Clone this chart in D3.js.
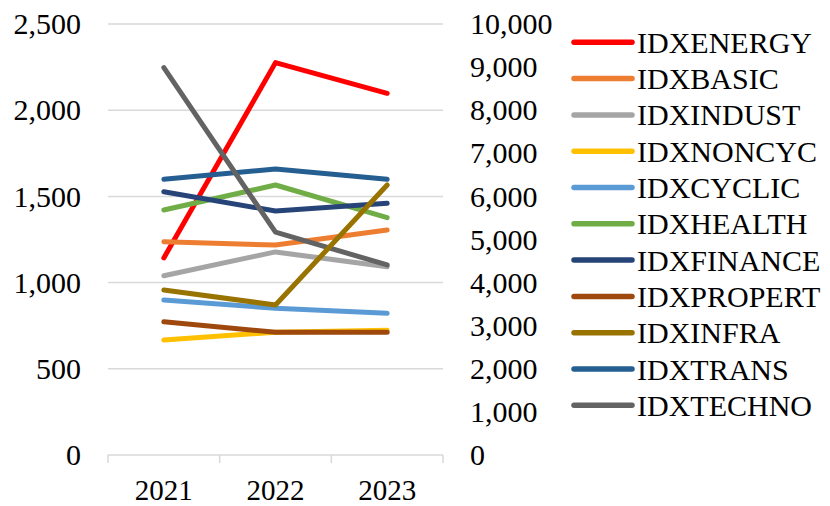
<!DOCTYPE html>
<html>
<head>
<meta charset="utf-8">
<script src="https://cdn.jsdelivr.net/npm/d3@7"></script>
<style>
  body { margin: 0; background: #fff; }
  svg text { font-family: "Liberation Serif", "DejaVu Serif", serif; fill: #000; }
</style>
</head>
<body>
<div id="chart"></div>
<script>
// years on the x axis
const years = ["2021", "2022", "2023"];

// series names, in legend order
const names = ["IDXENERGY", "IDXBASIC", "IDXINDUST", "IDXNONCYC", "IDXCYCLIC",
  "IDXHEALTH", "IDXFINANCE", "IDXPROPERT", "IDXINFRA", "IDXTRANS", "IDXTECHNO"];

// values
const energy  = [1143, 2276, 2098];
const basic   = [1237, 1218, 1305];
const indust  = [1040, 1178, 1092];
const noncyc  = [667, 712, 723];
const cyclic  = [899, 851, 822];
const health  = [1421, 1566, 1377];
const finance = [1527, 1415, 1460];
const propert = [773, 712, 712];
const infra   = [957, 870, 1566];
const trans   = [1599, 1659, 1599];
const techno  = [8990, 5170, 4410]; // right axis

const leftTicks = [0, 500, 1000, 1500, 2000, 2500];
const rightTicks = [0, 1000, 2000, 3000, 4000, 5000, 6000, 7000, 8000, 9000, 10000];

const colors = ["#ff0000", "#ed7d31", "#a5a5a5", "#ffc000", "#5b9bd5",
  "#70ad47", "#264478", "#9e480e", "#997300", "#255e91", "#636363"];

const values = [energy, basic, indust, noncyc, cyclic, health, finance, propert, infra, trans, techno];
const onRight = names.map(n => n === "IDXTECHNO");

const width = 830, height = 506;
const plotL = 108, plotR = 443, plotT = 24, plotB = 455;
const serif = "'Liberation Serif', 'DejaVu Serif', serif";

const svg = d3.select("#chart").append("svg")
  .attr("width", width)
  .attr("height", height)
  .attr("font-family", serif);

const x = d3.scaleBand().domain(years).range([plotL, plotR]).padding(0);
const y = d3.scaleLinear().domain([0, 2500]).range([plotB, plotT]);
const y2 = d3.scaleLinear().domain([0, 10000]).range([plotB, plotT]);
const fmt = d3.format(",");

// gridlines
svg.append("g")
  .selectAll("line")
  .data(leftTicks.slice(1))
  .enter()
  .append("line")
  .attr("x1", plotL).attr("x2", plotR)
  .attr("y1", d => y(d)).attr("y2", d => y(d))
  .attr("stroke", "#d9d9d9")
  .attr("stroke-width", 1.5);

// left axis
const gl = svg.append("g")
  .attr("transform", "translate(" + plotL + ",0)")
  .call(d3.axisLeft(y).tickValues(leftTicks).tickFormat(fmt).tickSize(0).tickPadding(27))
  .attr("font-family", serif)
  .attr("font-size", 30);
gl.select(".domain").remove();

// right axis
const gr = svg.append("g")
  .attr("transform", "translate(" + plotR + ",0)")
  .call(d3.axisRight(y2).tickValues(rightTicks).tickFormat(fmt).tickSize(0).tickPadding(27))
  .attr("font-family", serif)
  .attr("font-size", 30);
gr.select(".domain").remove();

// x axis line and ticks between categories
svg.append("line")
  .attr("x1", plotL).attr("x2", plotR)
  .attr("y1", plotB).attr("y2", plotB)
  .attr("stroke", "#d9d9d9")
  .attr("stroke-width", 1.5);

svg.append("g")
  .selectAll("line")
  .data(years.map(d => x(d)).concat([x.range()[1]]))
  .enter()
  .append("line")
  .attr("x1", d => d).attr("x2", d => d)
  .attr("y1", plotB).attr("y2", plotB + 8)
  .attr("stroke", "#d9d9d9")
  .attr("stroke-width", 1.5);

const gx = svg.append("g")
  .attr("transform", "translate(0," + plotB + ")")
  .call(d3.axisBottom(x).tickSize(0).tickPadding(24))
  .attr("font-family", serif)
  .attr("font-size", 29);
gx.select(".domain").remove();

// lines, drawn in the stacking order seen in the picture
const drawOrder = [0, 1, 2, 3, 4, 5, 6, 7, 9, 10, 8];
drawOrder.forEach(i => {
  const sy = onRight[i] ? y2 : y;
  const line = d3.line()
    .x((d, j) => x(years[j]) + x.bandwidth() / 2)
    .y(d => sy(d));
  svg.append("path")
    .datum(values[i])
    .attr("d", line)
    .attr("fill", "none")
    .attr("stroke", colors[i])
    .attr("stroke-width", 5)
    .attr("stroke-linecap", "round")
    .attr("stroke-linejoin", "round");
});

// legend
const legend = svg.append("g")
  .attr("font-family", serif)
  .attr("font-size", 30);
names.forEach((n, i) => {
  const ly = 42.3 + i * 36.3;
  legend.append("line")
    .attr("x1", 574).attr("x2", 632)
    .attr("y1", ly).attr("y2", ly)
    .attr("stroke", colors[i])
    .attr("stroke-width", 5.5)
    .attr("stroke-linecap", "round");
  legend.append("text")
    .attr("x", 637)
    .attr("y", ly)
    .attr("dy", "0.35em")
    .text(n);
});
</script>
</body>
</html>
